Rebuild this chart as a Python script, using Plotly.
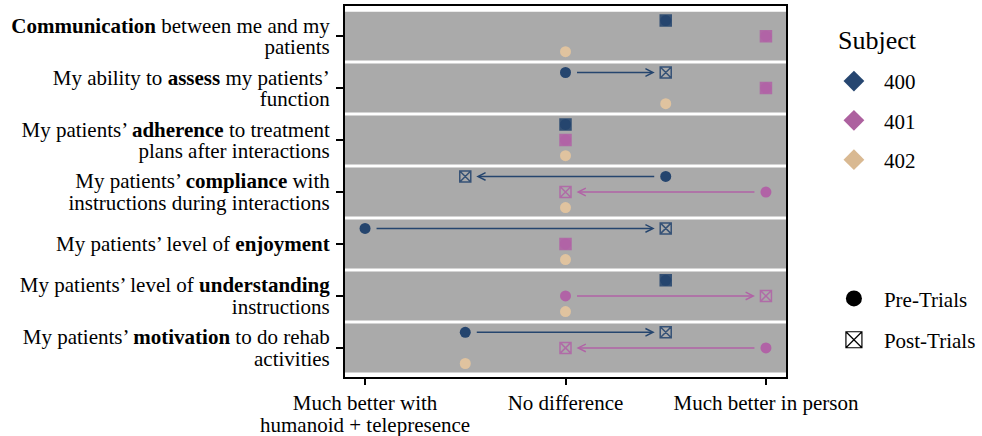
import plotly.graph_objects as go

# ---------------- data ----------------
categories = [
    "<b>Communication</b> between me and my<br>patients",
    "My ability to <b>assess</b> my patients’<br>function",
    "My patients’ <b>adherence</b> to treatment<br>plans after interactions",
    "My patients’ <b>compliance</b> with<br>instructions during interactions",
    "My patients’ level of <b>enjoyment</b>",
    "My patients’ level of <b>understanding</b><br>instructions",
    "My patients’ <b>motivation</b> to do rehab<br>activities",
]
subjects = ["400", "401", "402"]
legend_title = "Subject"
x_tickvals = [-1, 0, 1]
x_ticktext = ["Much better with<br>humanoid + telepresence", "No difference", "Much better in person"]

pre_400 = [0.5, 0, 0, 0.5, -1, 0.5, -0.5]
post_400 = [0.5, 0.5, 0, -0.5, 0.5, 0.5, 0.5]
pre_401 = [1, 1, 0, 1, 0, 0, 1]
post_401 = [1, 1, 0, 0, 0, 1, 0]
pre_402 = [0, 0.5, 0, 0, 0, 0, -0.5]
post_402 = [None, None, None, None, None, None, None]

# ---------------- style ----------------
colors = {"400": "#25456e", "401": "#b163a6", "402": "#e0c39f"}
legend_colors = {"400": "#264670", "401": "#ad619f", "402": "#d9b992"}
offsets = {"400": -0.3, "401": 0.0, "402": 0.3}
FONT = "Liberation Serif"
band_color = "#aaaaaa"

pre = {"400": pre_400, "401": pre_401, "402": pre_402}
post = {"400": post_400, "401": post_401, "402": post_402}

fig = go.Figure()

n = len(categories)
idx = list(range(n))

# gray bands
for i in idx:
    fig.add_shape(type="rect", xref="paper", x0=0, x1=1, yref="y",
                  y0=i - 0.471, y1=i + 0.471, fillcolor=band_color,
                  line=dict(width=0), layer="below")

# post markers (drawn first), then pre markers
for s in subjects:
    ys = [i + offsets[s] for i in idx]
    px, py, sym = [], [], []
    for i in idx:
        if post[s][i] is None:
            continue
        px.append(post[s][i])
        py.append(ys[i])
        sym.append("square" if post[s][i] == pre[s][i] else "square-x-open")
    if px:
        fig.add_trace(go.Scatter(
            x=px, y=py, mode="markers", showlegend=False, hoverinfo="skip",
            marker=dict(symbol=sym, size=11, color=colors[s], opacity=0.88,
                        line=dict(width=1.5, color=colors[s]))))

for s in subjects:
    ys = [i + offsets[s] for i in idx]
    fig.add_trace(go.Scatter(
        x=pre[s], y=ys, mode="markers", showlegend=False, hoverinfo="skip",
        marker=dict(symbol="circle", size=11, color=colors[s], line=dict(width=0))))

# arrows from pre to post
for s in subjects:
    for i in idx:
        a, b = pre[s][i], post[s][i]
        if b is None or a == b:
            continue
        y = i + offsets[s]
        fig.add_annotation(x=b, y=y, ax=a, ay=y, xref="x", yref="y",
                           axref="x", ayref="y", text="", showarrow=True,
                           arrowhead=5, arrowsize=1.0, arrowwidth=1.5,
                           arrowcolor=colors[s], standoff=11, startstandoff=10)

# legend entries: subjects
for s in subjects:
    fig.add_trace(go.Scatter(
        x=[None], y=[None], mode="markers", name=s, legend="legend",
        legendgroup=s,
        marker=dict(symbol="diamond", size=16, color=legend_colors[s])))

# legend entries: pre / post
fig.add_trace(go.Scatter(x=[None], y=[None], mode="markers", name="Pre-Trials",
                         legend="legend2", legendgroup="pre",
                         marker=dict(symbol="circle", size=16, color="black")))
fig.add_trace(go.Scatter(x=[None], y=[None], mode="markers", name="Post-Trials",
                         legend="legend2", legendgroup="post",
                         marker=dict(symbol="square-x-open", size=16, color="black",
                                     line=dict(width=1.2))))

# invisible trace for secondary x axis (second line of the first x label)
fig.add_trace(go.Scatter(x=[None], y=[None], xaxis="x2", showlegend=False,
                         hoverinfo="skip"))

# y tick labels: one tick per text line, real tick marks via minor ticks
line_step = 0.42
ytv, ytt = [], []
for i, lab in enumerate(categories):
    lines = lab.split("<br>")
    m = len(lines)
    for k, ln in enumerate(lines):
        ytv.append(i + (k - (m - 1) / 2) * line_step)
        ytt.append(ln)

x_line1 = [t.split("<br>")[0] for t in x_ticktext]
x_line2_vals = [v for v, t in zip(x_tickvals, x_ticktext) if "<br>" in t]
x_line2_text = [t.split("<br>")[1] for t in x_ticktext if "<br>" in t]

xrange = [-1.1, 1.1]

# legend title as text above the subject legend
fig.add_annotation(text=legend_title, xref="paper", yref="paper", x=1.113, y=0.908,
                   xanchor="left", yanchor="middle", showarrow=False,
                   font=dict(family=FONT, size=26, color="black"))

fig.update_layout(
    width=982, height=436,
    margin=dict(l=345, r=196, t=6, b=59, autoexpand=False),
    paper_bgcolor="white", plot_bgcolor="white",
    font=dict(family=FONT, size=21, color="black"),
    xaxis=dict(range=xrange, tickmode="array", tickvals=x_tickvals, ticktext=x_line1,
               showgrid=False, zeroline=False, showline=True, mirror=True,
               linecolor="black", linewidth=2, ticks="outside", ticklen=6,
               tickwidth=1.5, tickcolor="black", ticklabelstandoff=0,
               tickfont=dict(family=FONT, size=21, color="black")),
    xaxis2=dict(range=xrange, overlaying="x", anchor="y", side="bottom",
                tickmode="array", tickvals=x_line2_vals, ticktext=x_line2_text,
                showgrid=False, zeroline=False, showline=False, ticks="",
                ticklabelstandoff=33,
                tickfont=dict(family=FONT, size=21, color="black")),
    yaxis=dict(range=[6.56, -0.58], tickmode="array", tickvals=ytv, ticktext=ytt,
               showgrid=False, zeroline=False, showline=True, mirror=True,
               linecolor="black", linewidth=2, ticks="", ticklabelstandoff=9,
               tickfont=dict(family=FONT, size=21, color="black"),
               minor=dict(tickmode="array", tickvals=idx, ticks="outside", ticklen=7,
                          tickwidth=1.5, tickcolor="black", showgrid=False)),
    legend=dict(x=1.086, y=0.852, xanchor="left", yanchor="top",
                font=dict(family=FONT, size=21), itemwidth=50,
                tracegroupgap=9, bgcolor="rgba(0,0,0,0)"),
    legend2=dict(x=1.086, y=0.266, xanchor="left", yanchor="top",
                 font=dict(family=FONT, size=21), itemwidth=50,
                 tracegroupgap=11, bgcolor="rgba(0,0,0,0)"),
)

fig.write_html("out.html", config={"displayModeBar": False},
               post_script="document.body.style.margin='0';")
